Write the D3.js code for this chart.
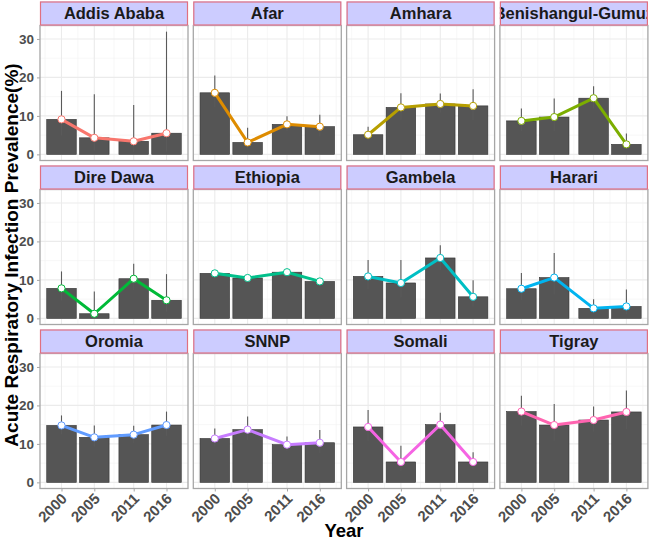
<!DOCTYPE html>
<html><head><meta charset="utf-8">
<script src="https://cdn.jsdelivr.net/npm/d3@7"></script>
<style>body{margin:0;background:#fff}svg{display:block}</style>
</head><body><svg id="c" width="650" height="543"></svg>
<script>
const regions = ["Addis Ababa","Afar","Amhara","Benishangul-Gumuz","Dire Dawa","Ethiopia","Gambela","Harari","Oromia","SNNP","Somali","Tigray"];
const years = [2000, 2005, 2011, 2016];
const colors = ["#F8766D","#DE8C00","#B79F00","#7CAE00","#00BA38","#00C08B","#00BFC4","#00B4F0","#619CFF","#C77CFF","#F564E3","#FF64B0"];
const prevalence = [
  [9.1, 4.3, 3.4, 5.5],
  [16.0, 3.1, 7.8, 7.2],
  [5.1, 12.2, 13.1, 12.6],
  [8.7, 9.7, 14.6, 2.6],
  [7.8, 1.2, 10.3, 4.7],
  [11.7, 10.5, 12.0, 9.6],
  [10.9, 9.2, 15.7, 5.6],
  [7.7, 10.6, 2.6, 3.1],
  [14.8, 11.7, 12.4, 14.9],
  [11.4, 13.7, 9.8, 10.3],
  [14.4, 5.3, 15.0, 5.3],
  [18.4, 14.9, 16.2, 18.3]
];
const lower = [
  [4.9, 1.0, 0.7, 0.7],
  [12.3, 1.6, 6.1, 4.7],
  [3.7, 9.0, 10.8, 8.9],
  [6.1, 6.1, 11.9, 1.3],
  [4.6, 0.3, 7.4, 1.7],
  [11.3, 10.1, 11.6, 9.2],
  [7.6, 5.4, 12.6, 3.1],
  [4.8, 6.3, 1.4, 1.1],
  [12.5, 9.3, 10.3, 12.1],
  [9.3, 11.0, 8.2, 7.6],
  [10.8, 3.0, 12.1, 3.4],
  [14.8, 10.8, 13.2, 13.8]
];
const upper = [
  [16.5, 15.6, 12.8, 31.9],
  [20.5, 6.9, 9.9, 10.3],
  [7.2, 15.9, 15.8, 16.9],
  [11.9, 14.5, 17.7, 5.4],
  [12.2, 7.0, 14.2, 11.5],
  [12.1, 10.9, 12.4, 10.0],
  [15.2, 15.2, 19.0, 9.9],
  [11.8, 17.0, 5.0, 7.5],
  [17.4, 14.8, 14.7, 18.4],
  [14.0, 17.1, 11.9, 13.6],
  [18.8, 9.5, 18.1, 7.8],
  [22.5, 20.4, 19.7, 23.9]
];
const yTicks = [0, 10, 20, 30];

const svg = d3.select("#c");
const left = 40, panelW = 148, gapX = 5.3;
const top0 = 1.5, stripH = 24, panelH = 135, rowPitch = 164;
const font = "'Liberation Sans', Arial, sans-serif";

const barW = 4.5;
const xMin = d3.min(years) - barW/2, xMax = d3.max(years) + barW/2;
const xPad = (xMax - xMin) * 0.05;
const x = d3.scaleLinear().domain([xMin - xPad, xMax + xPad]).range([0, panelW]);
const yMaxData = d3.max(upper.flat());
const yPad = yMaxData * 0.05;
const y = d3.scaleLinear().domain([-yPad, yMaxData + yPad]).range([panelH, 0]);

const xMinor = [1997.5, 2002.5, 2008, 2013.5, 2018.5];
const yMinor = [5, 15, 25];

const defs = svg.append("defs");

regions.forEach((name, i) => {
  const col = i % 4, row = Math.floor(i / 4);
  const px = left + col * (panelW + gapX);
  const sy = top0 + row * rowPitch;
  const py = sy + stripH;
  const g = svg.append("g").attr("transform", `translate(${px},${py})`);

  g.append("rect").attr("width", panelW).attr("height", panelH).attr("fill", "#fff");
  g.selectAll(".vmin").data(xMinor).join("line")
    .attr("x1", d => x(d)).attr("x2", d => x(d)).attr("y1", 0).attr("y2", panelH)
    .attr("stroke", "#F2F2F2").attr("stroke-width", 0.6);
  g.selectAll(".hmin").data(yMinor).join("line")
    .attr("y1", d => y(d)).attr("y2", d => y(d)).attr("x1", 0).attr("x2", panelW)
    .attr("stroke", "#F2F2F2").attr("stroke-width", 0.6);
  g.selectAll(".vmaj").data(years).join("line")
    .attr("x1", d => x(d)).attr("x2", d => x(d)).attr("y1", 0).attr("y2", panelH)
    .attr("stroke", "#EBEBEB").attr("stroke-width", 1.1);
  g.selectAll(".hmaj").data(yTicks).join("line")
    .attr("y1", d => y(d)).attr("y2", d => y(d)).attr("x1", 0).attr("x2", panelW)
    .attr("stroke", "#EBEBEB").attr("stroke-width", 1.1);

  const recs = years.map((yr, j) => ({yr, v: prevalence[i][j], lo: lower[i][j], hi: upper[i][j]}));

  g.selectAll(".bar").data(recs).join("rect")
    .attr("x", d => x(d.yr - barW/2)).attr("width", d => x(d.yr + barW/2) - x(d.yr - barW/2))
    .attr("y", d => y(d.v)).attr("height", d => y(0) - y(d.v))
    .attr("fill", "#555555").attr("stroke", "#333333").attr("stroke-width", 0.6);
  g.selectAll(".err").data(recs).join("line")
    .attr("x1", d => x(d.yr)).attr("x2", d => x(d.yr))
    .attr("y1", d => y(d.lo)).attr("y2", d => y(d.hi))
    .attr("stroke", "#5a5a5a").attr("stroke-width", 1.1);
  g.append("path").datum(recs)
    .attr("d", d3.line().x(d => x(d.yr)).y(d => y(d.v)))
    .attr("fill", "none").attr("stroke", colors[i]).attr("stroke-width", 3).attr("stroke-linejoin", "round");
  g.selectAll(".pt").data(recs).join("circle")
    .attr("cx", d => x(d.yr)).attr("cy", d => y(d.v)).attr("r", 3.6)
    .attr("fill", "#fff").attr("stroke", colors[i]).attr("stroke-width", 1);

  g.append("rect").attr("width", panelW).attr("height", panelH)
    .attr("fill", "none").attr("stroke", "#A6A6A6").attr("stroke-width", 1.3);

  const sg = svg.append("g").attr("transform", `translate(${px},${sy})`);
  const cid = "clip" + i;
  defs.append("clipPath").attr("id", cid).append("rect").attr("width", panelW).attr("height", stripH);
  sg.append("rect").attr("width", panelW).attr("height", stripH).attr("fill", "#CCCCFF");
  sg.append("g").attr("clip-path", `url(#${cid})`).append("text")
    .attr("x", panelW/2).attr("y", stripH/2 + 5.8).attr("text-anchor", "middle")
    .attr("font-family", font).attr("font-weight", "bold").attr("font-size", 16.5)
    .attr("fill", "#1A1A1A").text(name);
  sg.append("rect").attr("x", 0.5).attr("y", 0.5).attr("width", panelW - 1).attr("height", stripH - 1)
    .attr("fill", "none").attr("stroke", "#E07080").attr("stroke-width", 1.2);

  if (col === 0) {
    const ya = g.append("g").call(d3.axisLeft(y).tickValues(yTicks).tickSize(3).tickPadding(3));
    ya.select(".domain").remove();
    ya.selectAll("line").attr("stroke", "#A6A6A6");
    ya.selectAll("text").attr("font-family", font).attr("font-weight", "bold")
      .attr("font-size", 13.5).attr("fill", "#4D4D4D");
  }
  if (row === 2) {
    const xa = g.append("g").attr("transform", `translate(0,${panelH})`)
      .call(d3.axisBottom(x).tickValues(years).tickFormat(d3.format("d")).tickSize(3));
    xa.select(".domain").remove();
    xa.selectAll("line").attr("stroke", "#A6A6A6");
    xa.selectAll("text").attr("font-family", font).attr("font-weight", "bold")
      .attr("font-size", 15).attr("fill", "#4D4D4D")
      .attr("text-anchor", "end").attr("dy", null).attr("y", 0)
      .attr("transform", "translate(6,11) rotate(-45)");
  }
});

svg.append("text").attr("x", 344).attr("y", 537).attr("text-anchor", "middle")
  .attr("font-family", font).attr("font-weight", "bold").attr("font-size", 18.5).attr("fill", "#000").text("Year");
svg.append("text").attr("transform", "translate(18,255) rotate(-90)").attr("text-anchor", "middle")
  .attr("font-family", font).attr("font-weight", "bold").attr("font-size", 19).attr("fill", "#000")
  .text("Acute Respiratory Infection Prevalence(%)");
</script></body></html>
